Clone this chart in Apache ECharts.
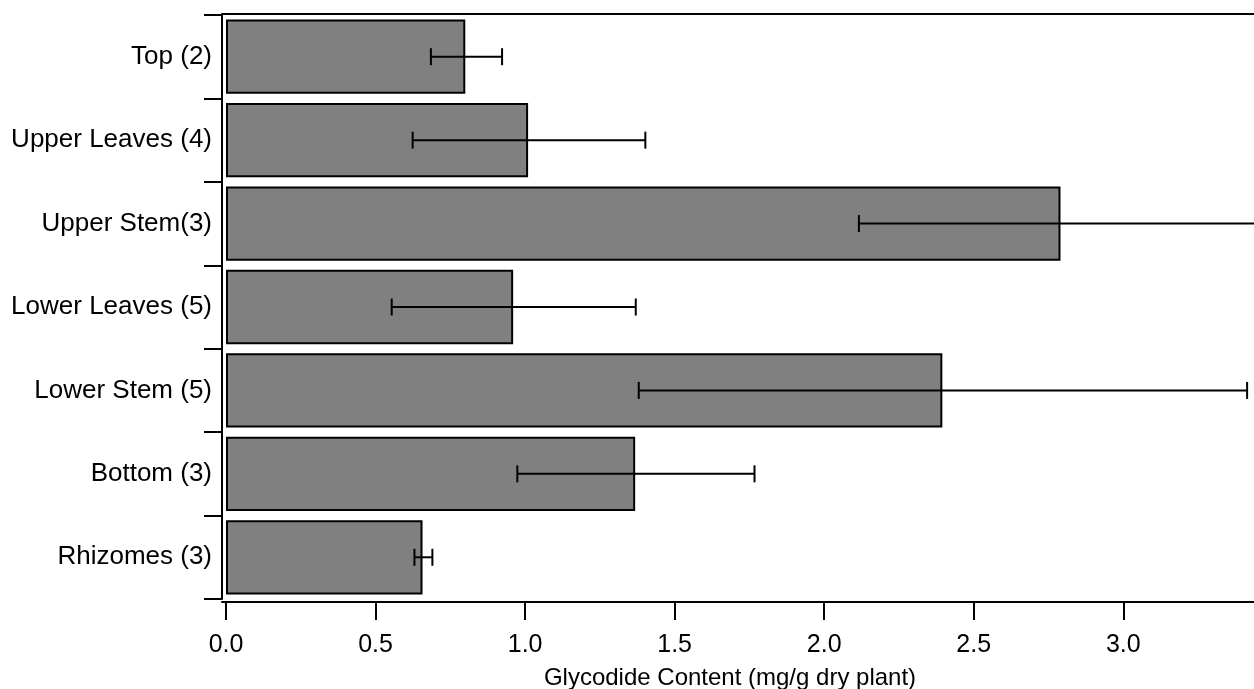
<!DOCTYPE html>
<html>
<head>
<meta charset="utf-8">
<script src="https://cdn.jsdelivr.net/npm/echarts@6/dist/echarts.min.js"></script>
<style>html,body{margin:0;padding:0;background:#fff}#c{width:1254px;height:689px}</style>
</head>
<body>
<div id="c"></div>
<script>
var categories = ['Top (2)', 'Upper Leaves (4)', 'Upper Stem(3)', 'Lower Leaves (5)', 'Lower Stem (5)', 'Bottom (3)', 'Rhizomes (3)'];
var means = [0.80, 1.01, 2.79, 0.96, 2.395, 1.368, 0.657];
var errLow = [0.685, 0.624, 2.116, 0.554, 1.380, 0.974, 0.630];
var errHigh = [0.923, 1.402, 3.46, 1.370, 3.414, 1.767, 0.690];
var xTicks = [0, 0.5, 1.0, 1.5, 2.0, 2.5, 3.0];
var xName = 'Glycodide Content (mg/g dry plant)';

var font = 'Liberation Sans, Arial, Helvetica, sans-serif';
var errData = categories.map(function (c, i) { return [i, errLow[i], errHigh[i]]; });
var xMin = -0.0134, xMax = 3.437;

var chart = echarts.init(document.getElementById('c'), null, {renderer: 'canvas'});
chart.setOption({
  animation: false,
  backgroundColor: '#fff',
  grid: {left: 222, right: 0, top: 15, bottom: 90, containLabel: false, outerBoundsMode: 'none'},
  xAxis: [{
    type: 'value', min: xMin, max: xMax, position: 'bottom', offset: 3,
    name: xName, nameLocation: 'middle', nameGap: 64,
    nameTextStyle: {fontFamily: font, fontSize: 24, color: '#000', padding: [0, 16, 0, 0]},
    axisLine: {show: true, onZero: false, lineStyle: {color: '#000', width: 2}},
    axisTick: {show: true, length: 18, inside: false, lineStyle: {color: '#000', width: 2}, customValues: xTicks},
    axisLabel: {fontFamily: font, fontSize: 25, color: '#000', margin: 31, customValues: xTicks,
      formatter: function (v) { return v.toFixed(1); }},
    splitLine: {show: false}
  }, {
    type: 'value', min: xMin, max: xMax, position: 'top', offset: 1,
    axisLine: {show: true, onZero: false, lineStyle: {color: '#000', width: 2}},
    axisTick: {show: false}, axisLabel: {show: false}, splitLine: {show: false}
  }],
  yAxis: {
    type: 'category', data: categories, inverse: true,
    axisLine: {show: true, onZero: false, lineStyle: {color: '#000', width: 2}},
    axisTick: {show: true, length: 18, alignWithLabel: false, lineStyle: {color: '#000', width: 2}},
    axisLabel: {fontFamily: font, fontSize: 26, color: '#000', margin: 10},
    splitLine: {show: false}
  },
  series: [{
    type: 'bar', data: means, barCategoryGap: '11%',
    itemStyle: {color: '#808080', borderColor: '#000', borderWidth: 2},
    z: 2
  }, {
    type: 'custom', data: errData, z: 5, clip: true,
    encode: {y: 0, x: [1, 2]},
    renderItem: function (params, api) {
      var yi = api.value(0);
      var p1 = api.coord([api.value(1), yi]);
      var p2 = api.coord([api.value(2), yi]);
      var h = 8.5;
      var style = {stroke: '#000', lineWidth: 2, fill: null};
      return {
        type: 'group',
        children: [
          {type: 'line', shape: {x1: p1[0], y1: p1[1], x2: p2[0], y2: p2[1]}, style: style},
          {type: 'line', shape: {x1: p1[0], y1: p1[1] - h, x2: p1[0], y2: p1[1] + h}, style: style},
          {type: 'line', shape: {x1: p2[0], y1: p2[1] - h, x2: p2[0], y2: p2[1] + h}, style: style}
        ]
      };
    }
  }]
});
</script>
</body>
</html>
